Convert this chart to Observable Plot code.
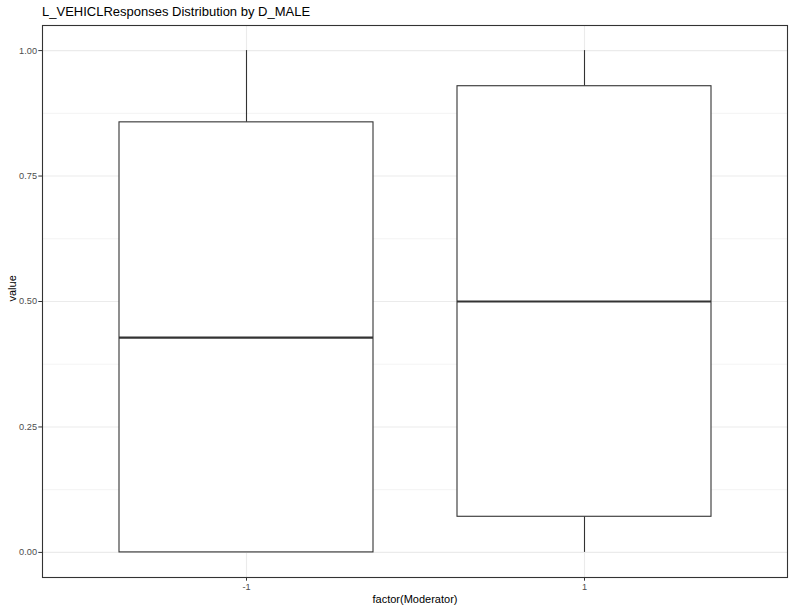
<!DOCTYPE html>
<html><head><meta charset="utf-8">
<script src="https://cdn.jsdelivr.net/npm/d3@7"></script>
<script src="https://cdn.jsdelivr.net/npm/@observablehq/plot@0.6"></script>
<style>
body{margin:0;background:#fff;font-family:"Liberation Sans",Arial,sans-serif;}
#title{font-size:13px;line-height:18px;padding:3px 0 0 42px;height:18px;color:#000;white-space:nowrap}
#chart svg{display:block}
</style></head><body>
<div id="title">L_VEHICLResponses Distribution by D_MALE</div>
<div id="chart"></div>
<script>
const categories = ["-1", "1"];
const ymin = [0, 0];
const lower = [0, 0.071];
const middle = [0.428, 0.50];
const upper = [0.857, 0.929];
const ymax = [1, 1];
const majorTicks = [0, 0.25, 0.5, 0.75, 1];
const minorTicks = [0.125, 0.375, 0.625, 0.875];
const xTitle = "factor(Moderator)";
const yTitle = "value";

const rows = categories.map((c, i) => ({cat: c, ymin: ymin[i], lower: lower[i], middle: middle[i], upper: upper[i], ymax: ymax[i]}));

const plot = Plot.plot({
  width: 792, height: 591,
  marginTop: 4, marginBottom: 35, marginLeft: 42, marginRight: 5,
  style: {fontFamily: "Liberation Sans, Arial, sans-serif", background: "#fff", overflow: "visible"},
  x: {type: "band", domain: categories, paddingInner: 0.25, paddingOuter: 0.225, label: null},
  y: {domain: [-0.05, 1.05], label: null},
  marks: [
    Plot.ruleY(minorTicks, {stroke: "#ebebeb", strokeWidth: 0.6}),
    Plot.ruleY(majorTicks, {stroke: "#ebebeb", strokeWidth: 1.1}),
    Plot.ruleX(categories, {x: d => d, stroke: "#ebebeb", strokeWidth: 1.1}),
    Plot.ruleX(rows, {x: "cat", y1: "upper", y2: "ymax", stroke: "#333", strokeWidth: 1.1}),
    Plot.ruleX(rows, {x: "cat", y1: "ymin", y2: "lower", stroke: "#333", strokeWidth: 1.1}),
    Plot.barY(rows, {x: "cat", y1: "lower", y2: "upper", fill: "white", stroke: "#333", strokeWidth: 1.1}),
    Plot.tickY(rows, {x: "cat", y: "middle", stroke: "#333", strokeWidth: 2.1}),
    Plot.frame({stroke: "#333", strokeWidth: 1.1}),
    Plot.axisY(majorTicks, {text: null, tickSize: 3.7, color: "#333", label: null}),
    Plot.axisY(majorTicks, {tickSize: 0, tickPadding: 5.5, tickFormat: d => d.toFixed(2), fontSize: 9.2, color: "#4d4d4d", label: null}),
    Plot.axisX({text: null, tickSize: 3.7, color: "#333", label: null}),
    Plot.axisX({tickSize: 0, tickPadding: 6, fontSize: 9.2, color: "#4d4d4d", label: null}),
    Plot.text([yTitle], {frameAnchor: "left", dx: -30, rotate: -90, fontSize: 11, fill: "#000"}),
    Plot.text([xTitle], {frameAnchor: "bottom", dy: 25, fontSize: 11, fill: "#000"})
  ]
});
document.getElementById("chart").appendChild(plot);
</script>
</body></html>
